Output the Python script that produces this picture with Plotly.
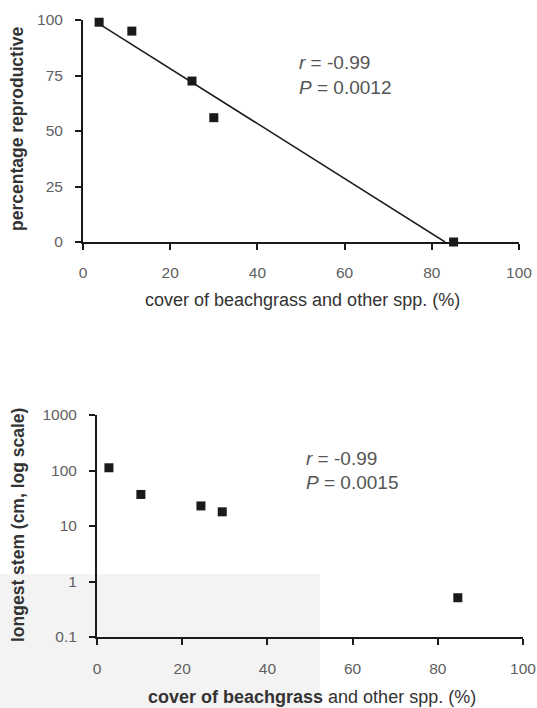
import numpy as np
import plotly.graph_objects as go

W, H = 537, 708

# ---- data ----
cover_top = [3.7, 11.2, 25.0, 30.0, 85.0]
pct_repro = [99.0, 95.0, 72.5, 56.0, 0.0]

cover_bot = [2.8, 10.3, 24.4, 29.4, 84.7]
longest_stem = [112.0, 37.0, 23.0, 18.0, 0.51]

x_ticks = [0, 20, 40, 60, 80, 100]
y_ticks_top = [0, 25, 50, 75, 100]
y_ticks_bot = [0.1, 1, 10, 100, 1000]
y_ticklabels_bot = ["0.1", "1", "10", "100", "1000"]

stats_top = ["<i>r</i> = -0.99", "<i>P</i> = 0.0012"]
stats_bot = ["<i>r</i> = -0.99", "<i>P</i> = 0.0015"]

x_title = "cover of beachgrass and other spp. (%)"
y_title_top = "percentage reproductive"
y_title_bot = "longest stem (cm, log scale)"

# regression line for top panel (drawn from first point to x-intercept)
slope, intercept = np.polyfit(cover_top, pct_repro, 1)
x0_fit = min(cover_top)
x1_fit = -intercept / slope
fit_x = [x0_fit, x1_fit]
fit_y = [slope * x0_fit + intercept, 0.0]

def px(v):
    return v / W

def py(v):
    return 1 - v / H

FONT = "Liberation Sans, Arial, sans-serif"
DARK = "#1a1a1a"

fig = go.Figure()

# faint scan shading in lower-left
fig.add_shape(type="rect", xref="paper", yref="paper",
              x0=0, x1=px(320), y0=0, y1=py(574),
              fillcolor="#f3f3f3", line=dict(width=0), layer="below")

fig.add_trace(go.Scatter(x=fit_x, y=fit_y, mode="lines",
                         line=dict(color=DARK, width=1.5),
                         xaxis="x", yaxis="y", showlegend=False))
fig.add_trace(go.Scatter(x=cover_top, y=pct_repro, mode="markers",
                         marker=dict(symbol="square", size=9, color=DARK),
                         cliponaxis=False, xaxis="x", yaxis="y", showlegend=False))
fig.add_trace(go.Scatter(x=cover_bot, y=longest_stem, mode="markers",
                         marker=dict(symbol="square", size=9, color=DARK),
                         cliponaxis=False, xaxis="x2", yaxis="y2", showlegend=False))

axis_common = dict(showgrid=False, zeroline=False, showline=True, linecolor=DARK,
                   linewidth=2, ticks="outside", ticklen=6, tickwidth=1.5,
                   tickcolor=DARK, automargin=False,
                   tickfont=dict(family=FONT, size=15.5, color="#606060"))

fig.update_layout(
    width=W, height=H,
    margin=dict(l=0, r=0, t=0, b=0),
    paper_bgcolor="white", plot_bgcolor="rgba(0,0,0,0)",
    xaxis=dict(domain=[px(83), px(519)], range=[0, 100], tickvals=x_ticks,
               anchor="y", ticklabelstandoff=9, **axis_common),
    yaxis=dict(domain=[py(242), py(20)], range=[0, 100], tickvals=y_ticks_top,
               anchor="x", ticklabelstandoff=9, **axis_common),
    xaxis2=dict(domain=[px(97), px(523)], range=[0, 100], tickvals=x_ticks,
                anchor="y2", ticklabelstandoff=10, **axis_common),
    yaxis2=dict(domain=[py(637), py(415)], type="log", range=[-1, 3],
                tickvals=y_ticks_bot, ticktext=y_ticklabels_bot,
                anchor="x2", ticklabelstandoff=9, **axis_common),
)

ann = []
txt_font = dict(family=FONT, size=19, color="#555555")
ann.append(dict(text=stats_top[0], x=px(297), y=py(63), xanchor="left", yanchor="middle",
                font=txt_font))
ann.append(dict(text=stats_top[1], x=px(297), y=py(88), xanchor="left", yanchor="middle",
                font=txt_font))
ann.append(dict(text=stats_bot[0], x=px(304), y=py(458), xanchor="left", yanchor="middle",
                font=txt_font))
ann.append(dict(text=stats_bot[1], x=px(304), y=py(482), xanchor="left", yanchor="middle",
                font=txt_font))

title_font = dict(family=FONT, size=18, color="#333333")
ytitle_font = dict(family=FONT, size=17.5, color="#333333")
ann.append(dict(text=x_title, x=px(302), y=py(300), xanchor="center", yanchor="middle",
                font=title_font))
ann.append(dict(text="<b>" + y_title_top + "</b>", x=px(17), y=py(129), textangle=-90,
                xanchor="center", yanchor="middle", font=ytitle_font))
ann.append(dict(text="<b>cover of beachgrass</b> and other spp. (%)", x=px(312), y=py(697),
                xanchor="center", yanchor="middle", font=title_font))
ann.append(dict(text="<b>" + y_title_bot + "</b>", x=px(18), y=py(525), textangle=-90,
                xanchor="center", yanchor="middle", font=ytitle_font))

for a in ann:
    a.update(xref="paper", yref="paper", showarrow=False)
fig.update_layout(annotations=ann)

fig.write_html("out.html", config={"displayModeBar": False},
               post_script="document.body.style.margin='0px';document.body.style.overflow='hidden';")
